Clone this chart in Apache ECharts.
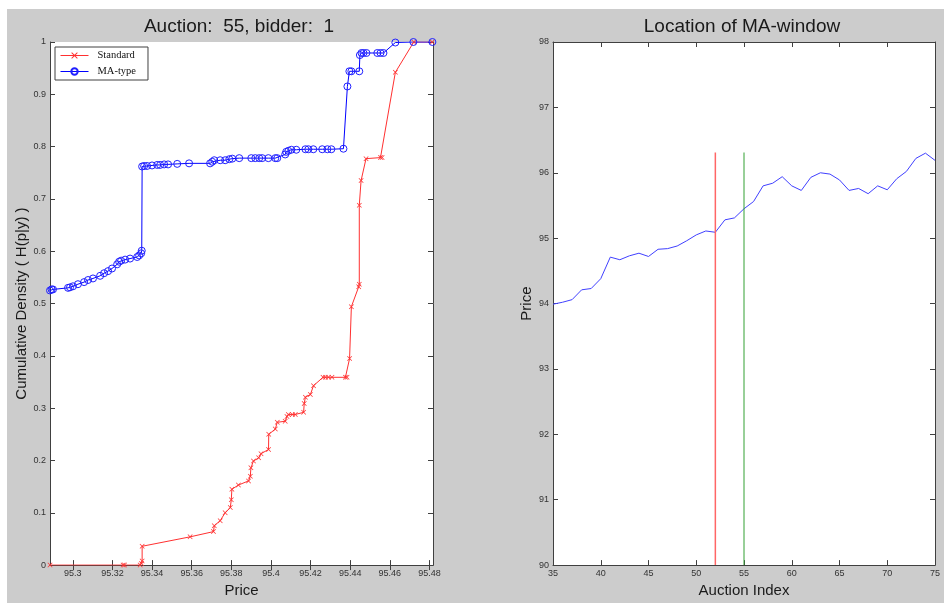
<!DOCTYPE html>
<html>
<head>
<meta charset="utf-8">
<script src="https://cdn.jsdelivr.net/npm/echarts@6/dist/echarts.min.js"></script>
<style>
  body { margin: 0; background: #ffffff; }
  #main { position: absolute; left: 7px; top: 9px; width: 937px; height: 594px; background: #cccccc; }
</style>
</head>
<body>
<div id="main"></div>
<script>
// left panel: empirical CDFs
const stdPrice = [95.2885, 95.3254, 95.3261, 95.3340, 95.3347, 95.3350, 95.3350, 95.3592, 95.3710, 95.3714,
  95.3744, 95.3769, 95.3795, 95.3800, 95.3803, 95.3836, 95.3887, 95.3896, 95.3899, 95.3912,
  95.3938, 95.3950, 95.3988, 95.3989, 95.4022, 95.4032, 95.4072, 95.4081, 95.4088, 95.4108,
  95.4123, 95.4165, 95.4168, 95.4174, 95.4199, 95.4215, 95.4263, 95.4275, 95.4290, 95.4308,
  95.4376, 95.4384, 95.4397, 95.4406, 95.4443, 95.4446, 95.4446, 95.4455, 95.4480, 95.4553,
  95.4561, 95.4628, 95.4721, 95.4814];
const stdCdf = [0, 0, 0, 0, 0.003, 0.008, 0.036, 0.054, 0.064, 0.075,
  0.085, 0.100, 0.110, 0.125, 0.145, 0.153, 0.161, 0.170, 0.186, 0.199,
  0.205, 0.213, 0.221, 0.250, 0.260, 0.273, 0.275, 0.284, 0.288, 0.288,
  0.288, 0.292, 0.309, 0.321, 0.326, 0.343, 0.359, 0.359, 0.359, 0.359,
  0.359, 0.359, 0.395, 0.494, 0.532, 0.537, 0.688, 0.735, 0.777, 0.779,
  0.779, 0.942, 1.0, 1.0];

const maPrice = [95.2885, 95.2893, 95.2900, 95.2976, 95.2986, 95.3001, 95.3026, 95.3057, 95.3077, 95.3102,
  95.3138, 95.3158, 95.3178, 95.3198, 95.3224, 95.3234, 95.3244, 95.3264, 95.3289, 95.3325,
  95.3335, 95.3345, 95.3348, 95.3350, 95.3360, 95.3375, 95.3400, 95.3426, 95.3441, 95.3461,
  95.3481, 95.3527, 95.3587, 95.3693, 95.3704, 95.3714, 95.3744, 95.3769, 95.3790, 95.3805,
  95.3840, 95.3901, 95.3921, 95.3941, 95.3956, 95.3987, 95.4022, 95.4032, 95.4072, 95.4077,
  95.4088, 95.4103, 95.4128, 95.4174, 95.4189, 95.4214, 95.4259, 95.4285, 95.4305, 95.4366,
  95.4386, 95.4396, 95.4406, 95.4446, 95.4449, 95.4457, 95.4467, 95.4482, 95.4537, 95.4553,
  95.4568, 95.4628, 95.4719, 95.4815];
const maCdf = [0.525, 0.527, 0.527, 0.530, 0.531, 0.533, 0.537, 0.541, 0.545, 0.548,
  0.553, 0.558, 0.562, 0.567, 0.575, 0.580, 0.582, 0.584, 0.586, 0.589,
  0.592, 0.596, 0.601, 0.762, 0.763, 0.763, 0.764, 0.765, 0.765, 0.766,
  0.766, 0.767, 0.768, 0.768, 0.771, 0.774, 0.774, 0.774, 0.776, 0.777,
  0.778, 0.778, 0.778, 0.778, 0.778, 0.778, 0.778, 0.778, 0.785, 0.790,
  0.792, 0.794, 0.794, 0.795, 0.795, 0.795, 0.795, 0.795, 0.795, 0.796,
  0.915, 0.944, 0.944, 0.944, 0.975, 0.979, 0.979, 0.979, 0.979, 0.979,
  0.979, 0.999, 1.0, 1.0];

const priceTicks = [95.3, 95.32, 95.34, 95.36, 95.38, 95.4, 95.42, 95.44, 95.46, 95.48];

// right panel: price path and MA-window
const auctionIdx = [35, 36, 37, 38, 39, 40, 41, 42, 43, 44, 45, 46, 47, 48, 49, 50, 51, 52, 53, 54,
  55, 56, 57, 58, 59, 60, 61, 62, 63, 64, 65, 66, 67, 68, 69, 70, 71, 72, 73, 74, 75];
const auctionPrice = [93.99, 94.02, 94.06, 94.21, 94.23, 94.38, 94.71, 94.67, 94.73, 94.77,
  94.72, 94.83, 94.84, 94.88, 94.96, 95.05, 95.11, 95.09, 95.28, 95.31,
  95.45, 95.56, 95.80, 95.84, 95.94, 95.80, 95.73, 95.93, 96.00, 95.98,
  95.89, 95.73, 95.76, 95.68, 95.80, 95.74, 95.91, 96.02, 96.22, 96.30, 96.19];
const windowStart = [52];
const currentAuction = [55];
const markerRange = [90, 96.31];

const chart = echarts.init(document.getElementById('main'));
const font = 'Liberation Sans, Arial, Helvetica, sans-serif';
const crossSymbol = 'path://M0,1L1,0L5,4L9,0L10,1L6,5L10,9L9,10L5,6L1,10L0,9L4,5Z';

const axisBase = {
  axisLine: { lineStyle: { color: '#404040', width: 1 } },
  axisTick: { inside: true, length: 5, lineStyle: { color: '#404040' } },
  axisLabel: { color: '#333', fontSize: 9, fontFamily: font },
  splitLine: { show: false },
};

function pairs(xs, ys) {
  return xs.map((x, i) => [x, ys[i]]);
}

const option = {
  animation: false,
  graphic: [
    { type: 'text', x: 232, y: 18, style: { text: 'Auction:  55, bidder:  1', font: '19px ' + font, fill: '#1a1a1a', textAlign: 'center', textVerticalAlign: 'middle' } },
    { type: 'text', x: 735, y: 18, style: { text: 'Location of MA-window', font: '19px ' + font, fill: '#1a1a1a', textAlign: 'center', textVerticalAlign: 'middle' } },
  ],
  grid: [
    { left: 43, top: 33, width: 383, height: 530, show: true, backgroundColor: '#fff', borderWidth: 0 },
    { left: 546, top: 33, width: 382, height: 530, show: true, backgroundColor: '#fff', borderWidth: 0 },
  ],
  legend: {
    left: 48, top: 38, orient: 'vertical',
    backgroundColor: '#fff', borderColor: '#404040', borderWidth: 1, borderRadius: 0,
    padding: [3, 12, 3, 5], itemWidth: 28, itemHeight: 8, itemGap: 5,
    lineStyle: { width: 1 },
    textStyle: { fontFamily: 'Liberation Serif, Times New Roman, serif', fontSize: 10.5, color: '#111', padding: [0, 0, 0, 4] },
    data: ['Standard', 'MA-type'],
  },
  xAxis: [
    Object.assign({}, axisBase, {
      gridIndex: 0, type: 'value', position: 'bottom', min: 95.2885, max: 95.4818,
      name: 'Price', nameLocation: 'middle', nameGap: 12,
      nameTextStyle: { fontSize: 15, fontFamily: font, color: '#1a1a1a' },
      axisTick: { inside: true, length: 5, lineStyle: { color: '#404040' }, customValues: priceTicks },
      axisLabel: { color: '#333', fontSize: 9, fontFamily: font, margin: 4, customValues: priceTicks, formatter: v => String(+v.toFixed(2)) },
    }),
    Object.assign({}, axisBase, {
      gridIndex: 0, type: 'value', position: 'top', min: 95.2885, max: 95.4818,
      axisTick: { inside: true, length: 5, lineStyle: { color: '#404040' }, customValues: priceTicks },
      axisLabel: { show: false },
    }),
    Object.assign({}, axisBase, {
      gridIndex: 1, type: 'value', position: 'bottom', min: 35, max: 75, interval: 5,
      name: 'Auction Index', nameLocation: 'middle', nameGap: 12,
      nameTextStyle: { fontSize: 15, fontFamily: font, color: '#1a1a1a' },
      axisLabel: { color: '#333', fontSize: 9, fontFamily: font, margin: 4 },
    }),
    Object.assign({}, axisBase, {
      gridIndex: 1, type: 'value', position: 'top', min: 35, max: 75, interval: 5,
      axisLabel: { show: false },
    }),
  ],
  yAxis: [
    Object.assign({}, axisBase, {
      gridIndex: 0, type: 'value', position: 'left', min: 0, max: 1, interval: 0.1,
      name: 'Cumulative Density ( H(p|y) )', nameLocation: 'middle', nameGap: 21,
      nameTextStyle: { fontSize: 15, fontFamily: font, color: '#1a1a1a' },
      axisLabel: { color: '#333', fontSize: 9, fontFamily: font, margin: 4 },
    }),
    Object.assign({}, axisBase, {
      gridIndex: 0, type: 'value', position: 'right', min: 0, max: 1, interval: 0.1,
      axisLabel: { show: false },
    }),
    Object.assign({}, axisBase, {
      gridIndex: 1, type: 'value', position: 'left', min: 90, max: 98, interval: 1,
      name: 'Price', nameLocation: 'middle', nameGap: 19,
      nameTextStyle: { fontSize: 15, fontFamily: font, color: '#1a1a1a' },
      axisLabel: { color: '#333', fontSize: 9, fontFamily: font, margin: 4 },
    }),
    Object.assign({}, axisBase, {
      gridIndex: 1, type: 'value', position: 'right', min: 90, max: 98, interval: 1,
      axisLabel: { show: false },
    }),
  ],
  series: [
    {
      name: 'Standard', type: 'line', xAxisIndex: 0, yAxisIndex: 0,
      data: pairs(stdPrice, stdCdf),
      symbol: crossSymbol, symbolSize: 5, showAllSymbol: true,
      lineStyle: { color: '#ff3030', width: 1 },
      itemStyle: { color: '#ff3030' },
    },
    {
      name: 'MA-type', type: 'line', xAxisIndex: 0, yAxisIndex: 0,
      data: pairs(maPrice, maCdf),
      symbol: 'circle', symbolSize: 7, showAllSymbol: true,
      lineStyle: { color: '#0000ff', width: 1 },
      itemStyle: { color: 'rgba(0,0,0,0)', borderColor: '#2020ff', borderWidth: 1 },
    },
    {
      name: 'price', type: 'line', xAxisIndex: 2, yAxisIndex: 2,
      data: pairs(auctionIdx, auctionPrice), symbol: 'none',
      lineStyle: { color: '#4040ff', width: 1 },
    },
    {
      name: 'window', type: 'line', xAxisIndex: 2, yAxisIndex: 2,
      data: markerRange.map(y => [windowStart[0], y]), symbol: 'none',
      lineStyle: { color: '#ff6666', width: 1.5 },
    },
    {
      name: 'auction', type: 'line', xAxisIndex: 2, yAxisIndex: 2,
      data: markerRange.map(y => [currentAuction[0], y]), symbol: 'none',
      lineStyle: { color: '#33a033', width: 1 },
    },
  ],
};

chart.setOption(option);
</script>
</body>
</html>
